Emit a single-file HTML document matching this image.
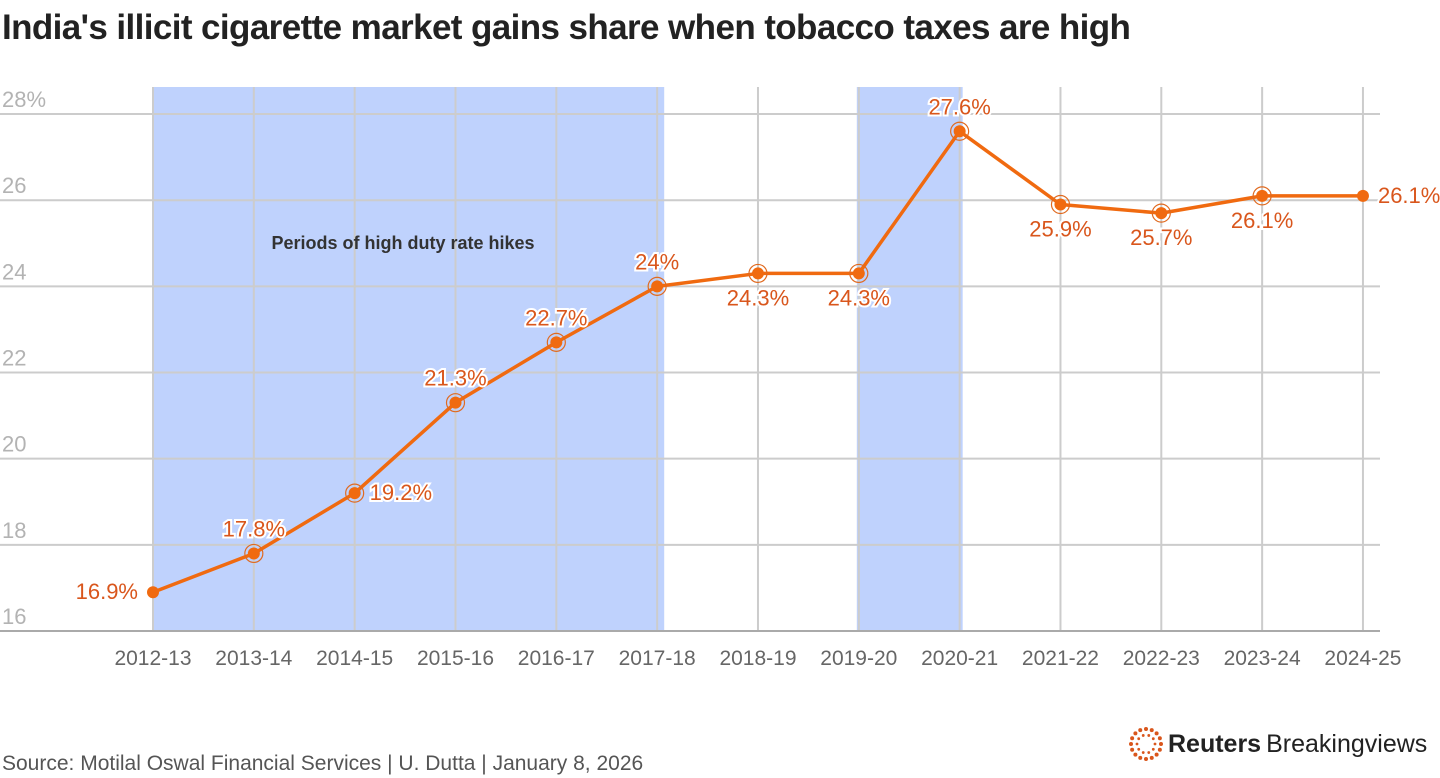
<!DOCTYPE html>
<html><head><meta charset="utf-8"><style>
body{margin:0;background:#fff;font-family:"Liberation Sans",sans-serif;}
#wrap{position:relative;width:1440px;height:778px;overflow:hidden;}
h1{position:absolute;left:2px;top:8px;margin:0;font-size:35px;font-weight:bold;color:#222;letter-spacing:-0.6px;}
#src{position:absolute;left:2px;top:752px;font-size:21px;color:#555;}
#logo{position:absolute;left:1128px;top:726px;display:flex;align-items:center;font-size:25px;color:#222;}
</style></head><body>
<div id="wrap">
<h1>India's illicit cigarette market gains share when tobacco taxes are high</h1>
<svg id="chart" width="1440" height="720" style="position:absolute;left:0;top:0"></svg>
<div id="src">Source: Motilal Oswal Financial Services | U. Dutta | January 8, 2026</div>
<div id="logo">
<svg width="36" height="36" viewBox="-18 -18 36 36" id="logoicon"></svg>
<span style="font-weight:bold;margin-left:4px">Reuters</span><span style="margin-left:5px">Breakingviews</span>
</div>
</div>
<script>
const categories=["2012-13","2013-14","2014-15","2015-16","2016-17","2017-18","2018-19","2019-20","2020-21","2021-22","2022-23","2023-24","2024-25"];
const values=[16.9,17.8,19.2,21.3,22.7,24,24.3,24.3,27.6,25.9,25.7,26.1,26.1];
const valueLabels=["16.9%","17.8%","19.2%","21.3%","22.7%","24%","24.3%","24.3%","27.6%","25.9%","25.7%","26.1%","26.1%"];
const labelPlacement=["left","above","right","above","above","above","below","below","above","below","below","below","right"];
const yTicks=[16,18,20,22,24,26,28];
const yTickLabels=["16","18","20","22","24","26","28%"];
const shadedRanges=[[0,5.07],[6.98,8.03]];
const NS="http://www.w3.org/2000/svg";
const svg=document.getElementById('chart');
const x=i=>153+i*100.83;
const y=v=>631-(v-16)*43.08;
function el(t,a,p){const e=document.createElementNS(NS,t);for(const k in a)e.setAttribute(k,a[k]);(p||svg).appendChild(e);return e;}
shadedRanges.forEach((r,i)=>{const e=el('rect',{x:x(r[0]),y:87,width:x(r[1])-x(r[0]),height:631-87,fill:'#bfd2fd'});

});
yTicks.forEach((t,i)=>{if(t>16){const g=el('line',{x1:0,x2:1380,y1:y(t),y2:y(t),stroke:'#ccc','stroke-width':2});

}
const l=el('text',{x:2,y:y(t)-7,fill:'#b3b3b3','font-size':22});l.textContent=yTickLabels[i];

});
categories.forEach((c,i)=>{const g=el('line',{x1:x(i),x2:x(i),y1:87,y2:631,stroke:'#ccc','stroke-width':2});


const l=el('text',{x:x(i),y:665,fill:'#666','font-size':21,'text-anchor':'middle'});l.textContent=c;

});
const ax=el('line',{x1:0,x2:1380,y1:631,y2:631,stroke:'#aaa','stroke-width':2});


const ann=el('text',{x:403,y:249,fill:'#333','font-size':18,'font-weight':'bold','text-anchor':'middle'});ann.textContent='Periods of high duty rate hikes';


const line=el('polyline',{points:values.map((v,i)=>x(i)+','+y(v)).join(' '),fill:'none',stroke:'#f06a10','stroke-width':3.5,'stroke-linejoin':'round'});


values.forEach((v,i)=>{const cx=x(i),cy=y(v);
if(i>0&&i<12){const r=el('circle',{cx,cy,r:9,fill:'none',stroke:'#e06a20','stroke-width':1.2});}
const d=el('circle',{cx,cy,r:6,fill:'#f06a10'});


const p=labelPlacement[i];let lx=cx,ly=cy,an='middle';
if(p=='left'){lx=cx-15;ly=cy+7;an='end';}else if(p=='right'){lx=cx+15;ly=cy+7;an='start';}else if(p=='above'){ly=cy-17;}else{ly=cy+32;}
const t=el('text',{x:lx,y:ly,fill:'#d9561c','font-size':22,'text-anchor':an,stroke:'#fff','stroke-width':4,'paint-order':'stroke'});t.textContent=valueLabels[i];

});
const li=document.getElementById('logoicon');
for(let ring=0;ring<2;ring++){const R=ring?15:9,n=ring?16:10;for(let k=0;k<n;k++){const a=k/n*2*Math.PI;el('circle',{cx:R*Math.cos(a),cy:R*Math.sin(a),r:ring?2:1.4,fill:'#d9561c'},li);}}
</script>
</body></html>
